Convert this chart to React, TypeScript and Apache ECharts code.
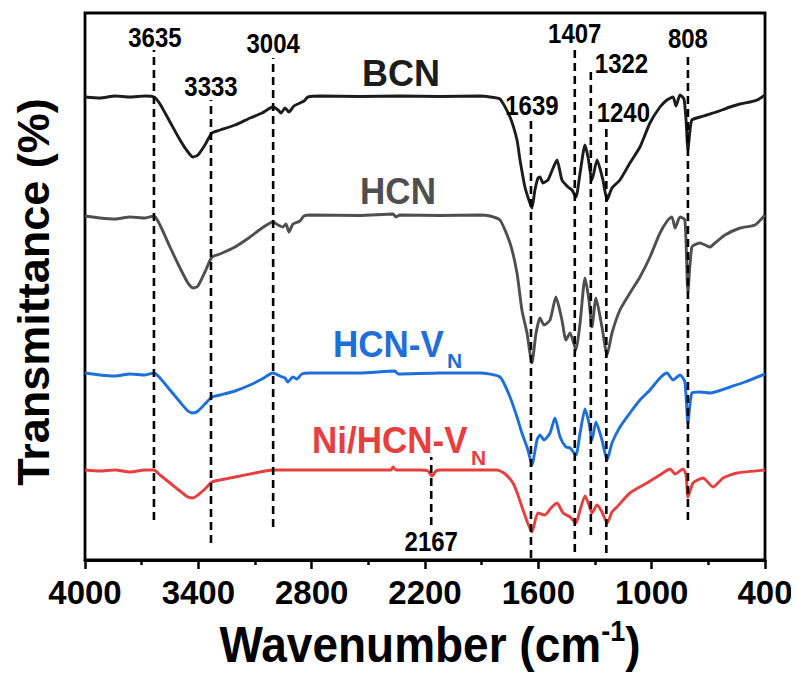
import React, { useEffect, useRef } from "react";
import * as echarts from "echarts";

// Wavenumber axis (cm^-1), reversed
const xTicks = [4000, 3400, 2800, 2200, 1600, 1000, 400];

// Spectra: [wavenumber, transmittance (a.u., offset)]
const bcn: [number, number][] = [
  [4000, 463], [3921, 462], [3841, 464], [3762, 463], [3682, 464], [3635, 463],
  [3603, 456], [3550, 438], [3497, 420], [3455, 408], [3428, 403], [3402, 405],
  [3365, 415], [3328, 427], [3285, 430], [3206, 435], [3126, 442], [3063, 447],
  [3005, 453], [2978, 450], [2962, 447], [2941, 452], [2920, 448], [2894, 454],
  [2862, 457], [2841, 459], [2819, 463], [2756, 464], [2544, 463.5], [2332, 464],
  [2121, 463.5], [1909, 464], [1856, 463], [1803, 461], [1750, 443], [1713, 420],
  [1697, 400], [1671, 373], [1650, 360], [1634, 352], [1618, 370], [1602, 382],
  [1591, 383], [1576, 377], [1549, 380], [1522, 392], [1501, 400], [1475, 380],
  [1443, 373], [1422, 370], [1401, 363], [1379, 387], [1353, 415], [1337, 403],
  [1316, 380], [1289, 400], [1258, 380], [1236, 360], [1210, 372], [1168, 380],
  [1115, 397], [1062, 413], [1009, 437], [956, 453], [919, 460], [887, 463],
  [871, 454], [850, 465], [829, 461], [818, 440], [808, 410], [797, 430],
  [787, 440], [744, 443], [707, 445], [675, 447], [628, 450], [585, 453],
  [532, 456], [479, 458], [442, 460], [400, 465],
];

const hcn: [number, number][] = [
  [4000, 344], [3921, 342], [3841, 341], [3762, 343], [3682, 342], [3635, 344],
  [3603, 335], [3550, 313], [3497, 292], [3455, 277], [3428, 272], [3402, 274],
  [3365, 288], [3328, 303], [3285, 306], [3206, 313], [3126, 323], [3063, 332],
  [3005, 338], [2978, 335], [2952, 333], [2936, 336], [2920, 328], [2899, 336],
  [2862, 339], [2841, 344], [2809, 345], [2544, 344.5], [2369, 346], [2354, 343],
  [2332, 345], [2121, 344.5], [1909, 345], [1856, 344], [1803, 340], [1750, 317],
  [1713, 287], [1687, 250], [1660, 227], [1634, 197], [1612, 227], [1591, 242],
  [1570, 235], [1538, 240], [1507, 263], [1475, 240], [1454, 220], [1432, 227],
  [1401, 210], [1379, 237], [1353, 282], [1332, 260], [1316, 233], [1295, 262],
  [1263, 233], [1236, 205], [1210, 227], [1168, 250], [1115, 267], [1062, 283],
  [1009, 303], [956, 327], [914, 340], [893, 343], [876, 332], [850, 343],
  [824, 340], [808, 268], [787, 313], [744, 317], [717, 315], [691, 313],
  [665, 317], [612, 325], [532, 332], [453, 335], [400, 345],
];

const hcnVN: [number, number][] = [
  [4000, 187], [3921, 185], [3841, 184], [3762, 186], [3682, 185], [3635, 187],
  [3603, 182], [3550, 170], [3497, 158], [3455, 149], [3428, 147], [3402, 149],
  [3365, 156], [3328, 163], [3285, 165], [3206, 169], [3126, 175], [3063, 181],
  [3005, 187], [2968, 184], [2941, 182], [2926, 178], [2899, 183], [2878, 181],
  [2852, 186], [2809, 187], [2544, 187], [2359, 189], [2343, 186], [2121, 187],
  [1909, 187], [1803, 183], [1750, 163], [1713, 143], [1687, 127], [1655, 110],
  [1634, 95], [1607, 120], [1591, 125], [1570, 120], [1538, 127], [1512, 142],
  [1485, 123], [1454, 113], [1432, 112], [1401, 105], [1379, 127], [1353, 151],
  [1332, 137], [1316, 120], [1295, 138], [1263, 120], [1236, 100], [1210, 117],
  [1168, 133], [1115, 147], [1062, 160], [1009, 170], [956, 182], [919, 187],
  [887, 180], [850, 185], [824, 178], [808, 137], [787, 167], [744, 168],
  [691, 167], [665, 168], [585, 173], [506, 178], [400, 186],
];

const niHcnVN: [number, number][] = [
  [4000, 90], [3921, 89], [3841, 90], [3762, 88], [3682, 90], [3635, 90],
  [3603, 85], [3550, 77], [3497, 69], [3455, 63], [3428, 62], [3402, 65],
  [3365, 71], [3328, 78], [3285, 80], [3179, 84], [3074, 88], [3005, 90],
  [2756, 90], [2380, 90], [2369, 93], [2354, 90], [2226, 90], [2184, 89],
  [2163, 84], [2142, 89], [2121, 90], [1819, 90], [1776, 86], [1734, 77],
  [1708, 65], [1681, 50], [1634, 28], [1602, 47], [1565, 45], [1533, 52],
  [1501, 57], [1469, 47], [1432, 43], [1401, 37], [1379, 50], [1353, 64],
  [1332, 55], [1316, 47], [1289, 55], [1263, 48], [1236, 37], [1210, 48],
  [1184, 53], [1115, 67], [1025, 77], [940, 87], [903, 91], [876, 86],
  [834, 91], [818, 85], [808, 63], [781, 77], [728, 82], [675, 73],
  [622, 82], [548, 87], [400, 90],
];

// Marked band positions (cm^-1) and the extent of their dashed guides
const peakWave = [3635, 3333, 3004, 2167, 1639, 1407, 1322, 1240, 808];
const peakTop = [510, 460, 502, 103, 442, 513, 493, 432, 508];
const peakBottom = [40, 17, 33, 35, 2, 8, 25, 7, 40];

const seriesNames = ["BCN", "HCN", "HCN-VN", "Ni/HCN-VN"];
const seriesData = [bcn, hcn, hcnVN, niHcnVN];
const seriesColors = ["#1c1c1c", "#4f4f4f", "#1f6fd8", "#e5403f"];

const FONT = "'Liberation Sans', Arial, Helvetica, sans-serif";

// pixel offsets of each band label from its guide end (style only)
function labelPlacement(w: number): { anchor: "top" | "bottom"; dx: number; dy: number; align: string } {
  if (w === 2167) return { anchor: "bottom", dx: 0, dy: 16, align: "center" };
  if (w === 1322) return { anchor: "top", dx: 4, dy: -4, align: "left" };
  if (w === 1240) return { anchor: "top", dx: 17, dy: -16, align: "center" };
  if (w === 3004) return { anchor: "top", dx: 0, dy: -15, align: "center" };
  if (w === 3635 || w === 1639) return { anchor: "top", dx: 1, dy: -13, align: "center" };
  return { anchor: "top", dx: 0, dy: -14, align: "center" };
}

export default function App() {
  const ref = useRef<HTMLDivElement>(null);

  useEffect(() => {
    if (!ref.current) return;
    const chart = echarts.init(ref.current, undefined, { renderer: "svg" });

    const curveSeries = seriesData.map((d, i) => ({
      name: seriesNames[i],
      type: "line",
      data: d,
      showSymbol: false,
      symbol: "none",
      smooth: 0.2,
      lineStyle: { color: seriesColors[i], width: 2.9 },
      z: 3,
    }));

    const dashSeries = peakWave.map((w, i) => ({
      name: "guide-" + w,
      type: "line",
      data: [
        [w, peakBottom[i]],
        [w, peakTop[i]],
      ],
      symbol: "none",
      lineStyle: { color: "#000", width: 2.6, type: [8, 5] },
      z: 4,
    }));

    const textStyleBase = { fontFamily: FONT, fontWeight: "bold" as const };

    const baseGraphics: any[] = [
      {
        type: "text",
        x: 33,
        y: 292,
        rotation: Math.PI / 2,
        style: {
          text: "Transmittance (%)",
          fill: "#000",
          fontSize: 45,
          ...textStyleBase,
          align: "center",
          verticalAlign: "middle",
        },
      },
      {
        type: "text",
        x: 430,
        y: 645,
        scaleY: 1.08,
        style: {
          text: "{m|Wavenumber (cm}{s|-1}{m|)}",
          fill: "#000",
          align: "center",
          verticalAlign: "middle",
          rich: {
            m: { fontSize: 46, ...textStyleBase, fill: "#000", lineHeight: 52 },
            s: { fontSize: 27, ...textStyleBase, fill: "#000", verticalAlign: "top", lineHeight: 52, padding: [0, 0, 19, 0] },
          },
        },
      },
      {
        type: "text",
        x: 401,
        y: 73,
        scaleY: 1.05,
        style: { text: "BCN", fill: seriesColors[0], fontSize: 36, ...textStyleBase, align: "center", verticalAlign: "middle" },
      },
      {
        type: "text",
        x: 398,
        y: 192,
        scaleY: 1.05,
        style: { text: "HCN", fill: seriesColors[1], fontSize: 35, ...textStyleBase, align: "center", verticalAlign: "middle" },
      },
      {
        type: "text",
        x: 333,
        y: 345,
        scaleY: 1.05,
        style: { text: "HCN-V", fill: seriesColors[2], fontSize: 35, ...textStyleBase, align: "left", verticalAlign: "middle" },
      },
      {
        type: "text",
        x: 447,
        y: 360,
        style: { text: "N", fill: seriesColors[2], fontSize: 21, ...textStyleBase, align: "left", verticalAlign: "middle" },
      },
      {
        type: "text",
        x: 312,
        y: 441,
        scaleY: 1.05,
        style: { text: "Ni/HCN-V", fill: seriesColors[3], fontSize: 35, ...textStyleBase, align: "left", verticalAlign: "middle" },
      },
      {
        type: "text",
        x: 471,
        y: 457,
        style: { text: "N", fill: seriesColors[3], fontSize: 21, ...textStyleBase, align: "left", verticalAlign: "middle" },
      },
    ];

    const option: any = {
      animation: false,
      grid: {
        left: 85,
        right: 34,
        top: 13,
        bottom: 117,
        show: true,
        borderColor: "#000",
        borderWidth: 2.8,
        backgroundColor: "transparent",
      },
      xAxis: {
        type: "value",
        inverse: true,
        min: xTicks[xTicks.length - 1],
        max: xTicks[0],
        interval: xTicks[0] - xTicks[1],
        axisLine: { show: true, lineStyle: { color: "#000", width: 2.8 } },
        axisTick: { show: true, inside: false, length: 9, lineStyle: { color: "#000", width: 2.5 } },
        minorTick: { show: true, splitNumber: 2, length: 5, lineStyle: { color: "#000", width: 2.5 } },
        splitLine: { show: false },
        minorSplitLine: { show: false },
        axisLabel: {
          color: "#000",
          fontSize: 33,
          fontWeight: "bold",
          fontFamily: FONT,
          margin: 16,
          formatter: (v: number) => String(v),
        },
      },
      yAxis: {
        type: "value",
        min: 0,
        max: 547,
        show: false,
        splitLine: { show: false },
      },
      series: [...curveSeries, ...dashSeries],
      graphic: baseGraphics,
    };
    chart.setOption(option);

    // band labels placed at the guide ends through the chart's own scales
    const peakLabels = peakWave.map((w, i) => {
      const p = labelPlacement(w);
      const yVal = p.anchor === "bottom" ? peakBottom[i] : peakTop[i];
      const pt = chart.convertToPixel({ gridIndex: 0 }, [w, yVal]) as number[];
      return {
        type: "text",
        x: pt[0] + p.dx,
        y: pt[1] + p.dy,
        scaleY: 1.18,
        z: 10,
        style: {
          text: String(w),
          fill: "#000",
          fontSize: 24,
          ...textStyleBase,
          align: p.align,
          verticalAlign: "middle",
        },
      };
    });
    chart.setOption({ graphic: [...baseGraphics, ...peakLabels] });

    return () => {
      chart.dispose();
    };
  }, []);

  return <div ref={ref} style={{ width: 799, height: 677, marginLeft: -8, marginTop: -8 }} />;
}
